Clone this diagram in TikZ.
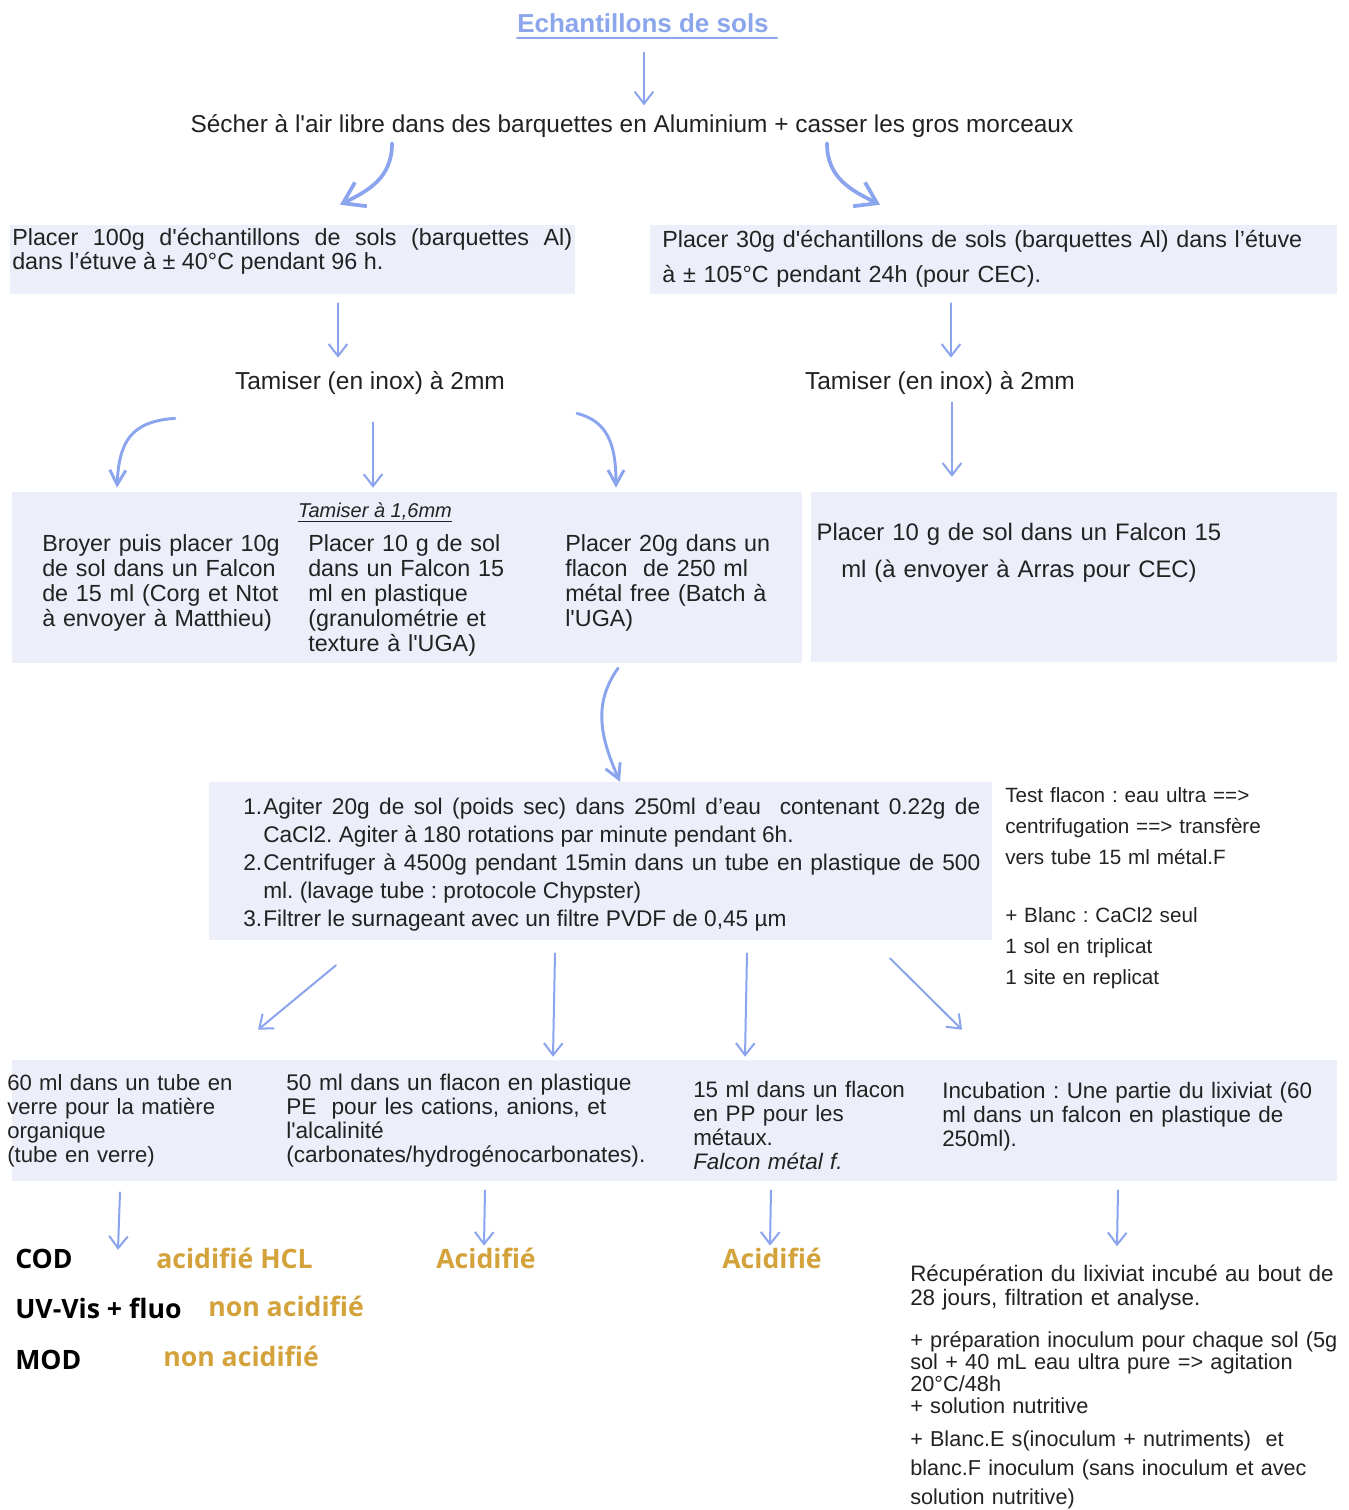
\documentclass[tikz,border=0pt]{standalone}
\usepackage{fontspec}
\setmainfont{Liberation Sans}[Ligatures=TeXOff]
\newfontfamily\labfont{Open Sans}
\usetikzlibrary{arrows.meta, fit}
\definecolor{cblue}{HTML}{8AA5EE}
\definecolor{ctitle}{HTML}{8CA6EC}
\definecolor{cfill}{HTML}{ECEEFA}
\definecolor{cgold}{HTML}{D4A23A}
\definecolor{ctext}{HTML}{222222}
\newcommand{\fsz}[2]{\fontsize{#1}{#2}\selectfont}
\frenchspacing
\tikzset{
  every picture/.style={line cap=round},
  panel/.style={fill=cfill, draw=none, inner sep=0pt},
  txt/.style={inner sep=0pt, text=ctext, anchor=base west, align=left},
  flow/.style={-{Straight Barb[length=9pt, width=14pt]}, draw=cblue, line width=1.5pt},
  midflow/.style={-{Straight Barb[length=11pt, width=12pt]}, draw=cblue, line width=2.2pt},
  bigflow/.style={-{Straight Barb[length=15pt, width=20pt]}, draw=cblue, line width=2.8pt},
  lab/.style={inner sep=0pt, anchor=base west, text=black, font=\labfont\bfseries\fsz{20}{24}},
  gold/.style={lab, text=cgold},
}

\begin{document}
\begin{tikzpicture}[x=0.75pt, y=-0.75pt]
  \fill[white, use as bounding box] (0,0) rectangle (1349,1510);

  % panels
  \node[panel, fit={(10,225) (575,294)}] (pA) {};
  \node[panel, fit={(650,225) (1337,294)}] (pB) {};
  \node[panel, fit={(12,492) (802,663)}] (pC) {};
  \node[panel, fit={(811,492) (1337,662)}] (pD) {};
  \node[panel, fit={(209,782) (992,940)}] (pE) {};
  \node[panel, fit={(12,1060) (1337,1181)}] (pF) {};

  % top
  \node[inner sep=0pt, anchor=base, text=ctitle, font=\bfseries\fsz{19.5}{23}] (titre) at (643,32) {Echantillons de sols};
  \draw[ctitle, line width=1.6pt] ([yshift=-4.5pt]titre.base west) -- ([yshift=-4.5pt, xshift=6pt]titre.base east);
  \node[txt, anchor=base, font=\fsz{18.3}{22}] (sech) at (632,132) {Sécher à l'air libre dans des barquettes en Aluminium + casser les gros morceaux};

  % drying
  \node[txt, text width=420pt, align=justify, font=\fsz{17.5}{18}] (placA) at (12,245)
    {Placer 100g d'échantillons de sols (barquettes Al)\linebreak dans l’étuve à ± 40°C pendant 96 h.};
  \node[txt, text width=500pt, font=\fsz{17.5}{26.25}] (placB) at (662,247)
    {Placer 30g d'échantillons de sols (barquettes Al) dans l’étuve\\à ± 105°C pendant 24h (pour CEC).};
  \node[txt, anchor=base, font=\fsz{18.4}{22}] (tamA) at (370,389) {Tamiser (en inox) à 2mm};
  \node[txt, anchor=base, font=\fsz{18.4}{22}] (tamB) at (940,389) {Tamiser (en inox) à 2mm};

  % sub-samples
  \node[txt, anchor=base, font=\itshape\fsz{15}{18}] (tam16) at (375,517) {\underline{Tamiser à 1,6mm}};
  \node[txt, text width=190pt, font=\fsz{17.5}{18.75}] (broy) at (42,551)
    {Broyer puis placer 10g\\de sol dans un Falcon\\de 15 ml (Corg et Ntot\\à envoyer à Matthieu)};
  \node[txt, text width=190pt, font=\fsz{17.5}{18.75}] (pl10) at (308,551)
    {Placer 10 g de sol\\dans un Falcon 15\\ml en plastique\\(granulométrie et\\texture à l'UGA)};
  \node[txt, text width=190pt, font=\fsz{17.5}{18.75}] (pl20) at (565,551)
    {Placer 20g dans un\\flacon~ de 250 ml\\métal free (Batch à\\l'UGA)};
  \node[txt, anchor=base, text width=400pt, align=center, font=\fsz{17.9}{27.75}] (placD) at (1019,540)
    {Placer 10 g de sol dans un Falcon 15\\ml (à envoyer à Arras pour CEC)};

  % batch
  \node[txt, text width=552.75pt, align=justify, font=\fsz{17}{21}] (etapes) at (243,814)
    {\hangindent=15pt\hangafter=1\noindent\makebox[15pt][l]{1.}Agiter 20g de sol (poids sec) dans 250ml d’eau~ contenant 0.22g de\linebreak CaCl2. Agiter à 180 rotations par minute pendant 6h.\par
     \hangindent=15pt\hangafter=1\noindent\makebox[15pt][l]{2.}Centrifuger à 4500g pendant 15min dans un tube en plastique de 500\linebreak ml. (lavage tube : protocole Chypster)\par
     \hangindent=15pt\hangafter=1\noindent\makebox[15pt][l]{3.}Filtrer le surnageant avec un filtre PVDF de 0,45 µm};
  \node[txt, text width=220pt, font=\fsz{15.5}{23.25}] (note) at (1005,802)
    {Test flacon : eau ultra ==>\\centrifugation ==> transfère\\vers tube 15 ml métal.F\\[20.25pt]+ Blanc : CaCl2 seul\\1 sol en triplicat\\1 site en replicat};

  % fractions
  \node[txt, text width=200pt, font=\fsz{16.6}{18}] (f1) at (7,1090)
    {60 ml dans un tube en\\verre pour la matière\\organique\\(tube en verre)};
  \node[txt, text width=300pt, font=\fsz{17}{18}] (f2) at (286,1090)
    {50 ml dans un flacon en plastique\\PE~ pour les cations, anions, et\\l'alcalinité\\(carbonates/hydrogénocarbonates).};
  \node[txt, text width=180pt, font=\fsz{16.8}{18}] (f3) at (693,1097)
    {15 ml dans un flacon\\en PP pour les\\métaux.\\\textit{Falcon métal f.}};
  \node[txt, text width=300pt, font=\fsz{16.8}{18}] (f4) at (942,1098)
    {Incubation : Une partie du lixiviat (60\\ml dans un falcon en plastique de\\250ml).};

  % analyses
  \node[lab] (cod) at (15,1268) {COD};
  \node[lab] (uv) at (15,1318) {UV-Vis + fluo};
  \node[lab] (mod) at (15,1369) {MOD};
  \node[gold] (acHCL) at (156,1268) {acidifié HCL};
  \node[gold] (non1) at (208,1316) {non acidifié};
  \node[gold] (non2) at (163,1366) {non acidifié};
  \node[gold] (ac2) at (436,1268) {Acidifié};
  \node[gold] (ac3) at (722,1268) {Acidifié};
  \node[txt, text width=400pt, font=\fsz{16.8}{18}] (recup1) at (910,1281)
    {Récupération du lixiviat incubé au bout de\\28 jours, filtration et analyse.};
  \node[txt, text width=400pt, font=\fsz{16.3}{16.5}] (recup2) at (910,1347)
    {+ préparation inoculum pour chaque sol (5g\\sol + 40 mL eau ultra pure => agitation\\20°C/48h\\+ solution nutritive};
  \node[txt, text width=400pt, font=\fsz{16.2}{22.1}] (recup3) at (910,1446)
    {+ Blanc.E s(inoculum + nutriments)~ et\\blanc.F inoculum (sans inoculum et avec\\solution nutritive)};

  % arrows
  \draw[flow] ([shift={(1,20)}]titre.south) -- ([shift={(12,-8.5)}]sech.north);
  \draw[bigflow] ([shift={(-240,6)}]sech.south) .. controls +(0,35) and +(28,-14) .. ([shift={(47.5,-20)}]pA.north);
  \draw[bigflow] ([shift={(195,6)}]sech.south) .. controls +(0,35) and +(-28,-14) .. ([shift={(-113.5,-20)}]pB.north);
  \draw[flow] ([shift={(45.5,9)}]pA.south) -- ([shift={(-32,-13)}]tamA.north);
  \draw[flow] ([shift={(-42.5,9)}]pB.south) -- ([shift={(11,-13)}]tamB.north);
  \draw[midflow] ([shift={(-195,24)}]tamA.south) .. controls +(-45,3) and +(2,-45) .. ([shift={(-290,-4)}]pC.north);
  \draw[flow] ([shift={(3,28)}]tamA.south) -- ([shift={(-34,-4)}]pC.north);
  \draw[midflow] ([shift={(207,19)}]tamA.south) .. controls +(30,8) and +(0,-45) .. ([shift={(209,-4)}]pC.north);
  \draw[flow] ([shift={(12,8)}]tamB.south) -- ([shift={(-122,-15)}]pD.north);
  \draw[midflow] ([shift={(211,5)}]pC.south) .. controls +(-25,35) and +(-20,-45) .. ([shift={(19.5,0)}]pE.north);
  \draw[flow] ([shift={(-264.5,25)}]pE.south) -- ([shift={(-416.5,-30)}]pF.north);
  \draw[flow] ([shift={(-45.5,13)}]pE.south) -- ([shift={(-121.5,-3)}]pF.north);
  \draw[flow] ([shift={(146.5,13)}]pE.south) -- ([shift={(70.5,-3)}]pF.north);
  \draw[flow] ([shift={(289.5,18)}]pE.south) -- ([shift={(287.5,-30)}]pF.north);
  \draw[flow] ([shift={(-554.5,11)}]pF.south) -- ([shift={(-38,2.5)}]acHCL.north west);
  \draw[flow] ([shift={(-189.5,9)}]pF.south) -- ([shift={(48,-1.7)}]ac2.north west);
  \draw[flow] ([shift={(96.5,9)}]pF.south) -- ([shift={(48,-1.7)}]ac3.north west);
  \draw[flow] ([shift={(443.5,9)}]pF.south) -- ([shift={(207,-18)}]recup1.north west);
\end{tikzpicture}
\end{document}
